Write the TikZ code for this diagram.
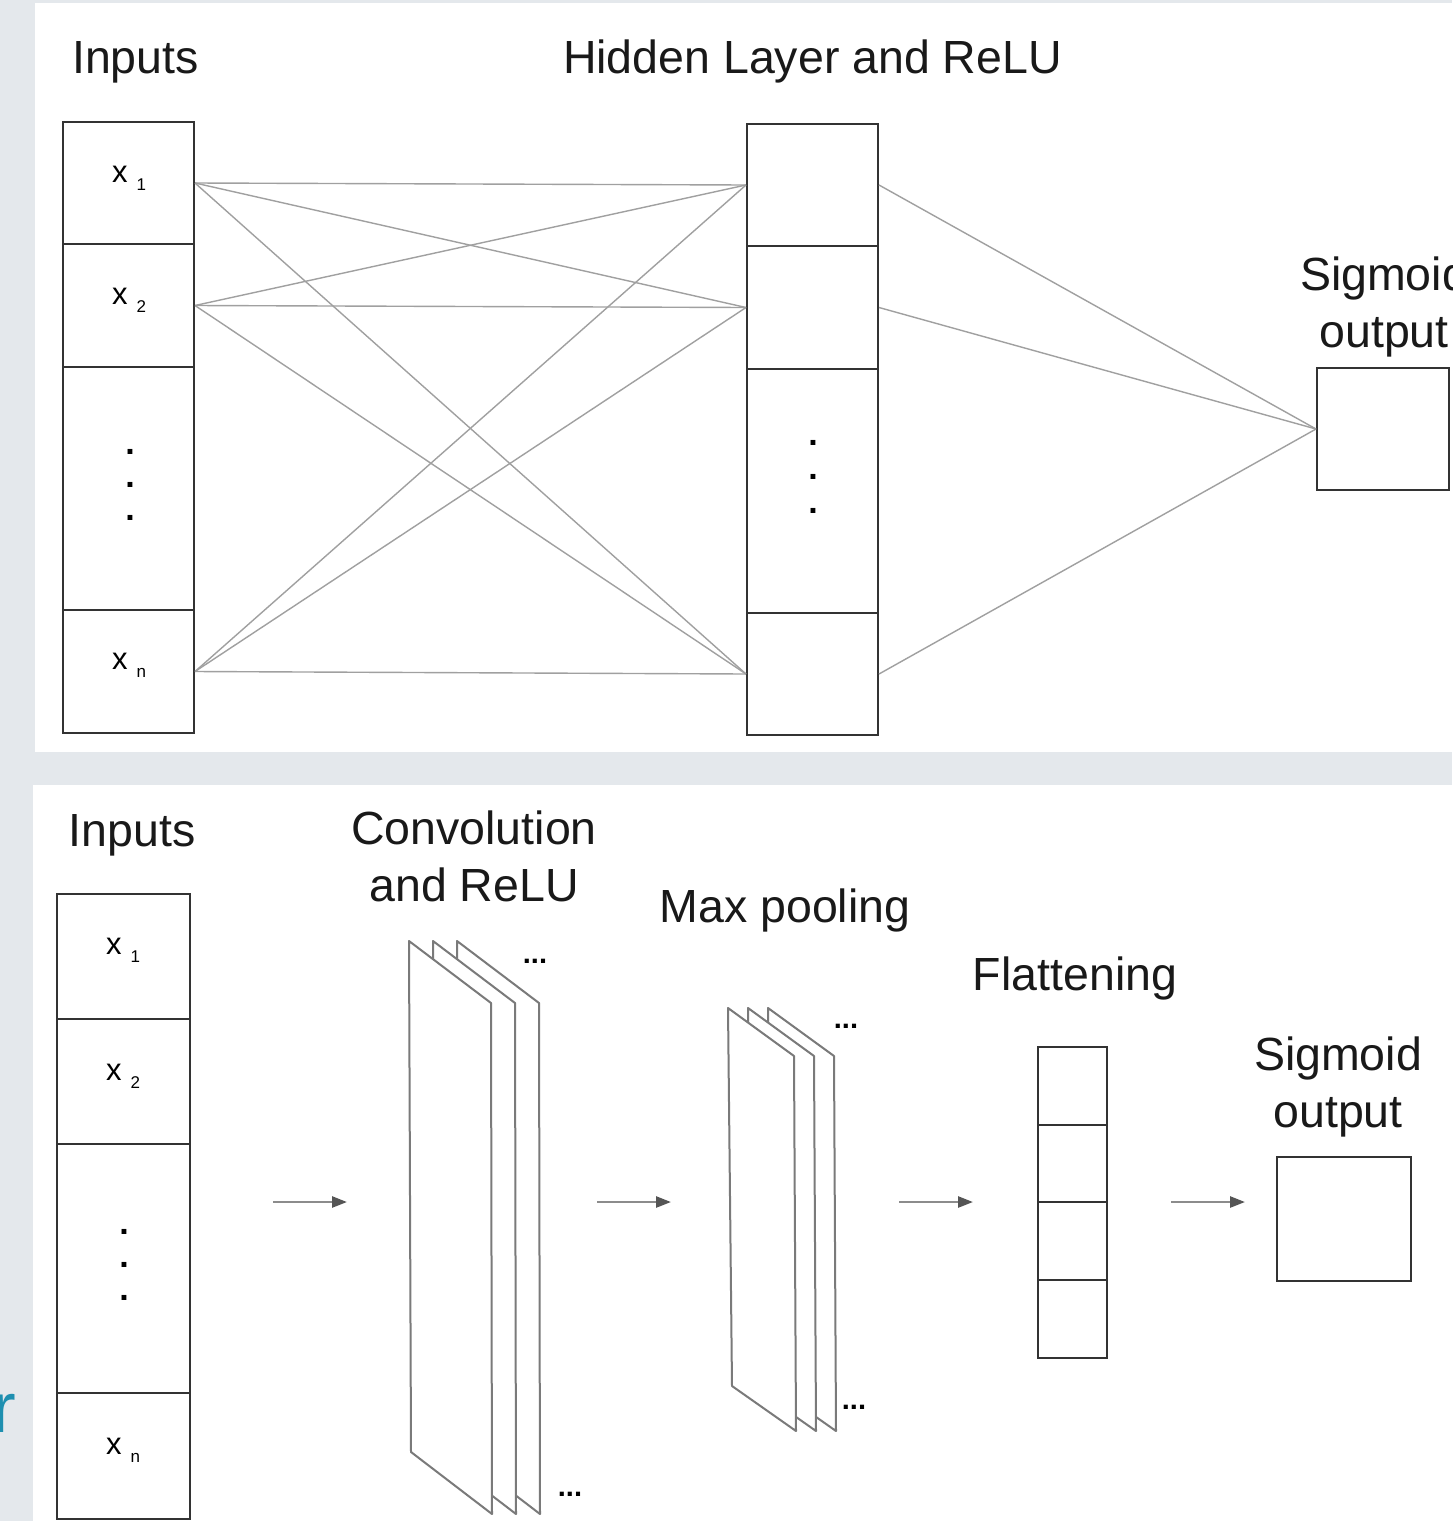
\documentclass[tikz,border=0pt]{standalone}
\usepackage{fontspec}
\setmainfont{Liberation Sans}
\usetikzlibrary{arrows.meta}
\definecolor{bgc}{HTML}{E4E8EC}
\definecolor{boxc}{HTML}{333333}
\definecolor{linec}{HTML}{A0A0A0}
\definecolor{planec}{HTML}{7A7A7A}
\definecolor{arrc}{HTML}{8C8C8C}
\definecolor{tipc}{HTML}{555555}
\definecolor{bluec}{HTML}{1E8FB0}
\tikzset{
  title/.style={font=\fontsize{46.5}{56}\selectfont, anchor=base, inner sep=0pt, text=black!90},
  cell/.style={draw=boxc, line width=2pt, fill=white, inner sep=0pt},
  xl/.style={font=\fontsize{31}{36}\selectfont, anchor=base west, inner sep=0pt},
  vdot/.style={font=\fontsize{34}{36}\selectfont\bfseries, inner sep=0pt},
  ell/.style={font=\fontsize{29}{32}\selectfont\bfseries, inner sep=0pt},
  conn/.style={draw=linec, line width=1.4pt},
  plane/.style={draw=planec, line width=2pt, fill=white, line join=round},
  flow/.style={draw=arrc, line width=2.5pt, -{Triangle[length=15pt,width=11pt,color=tipc]}},
}
\newcommand{\xlab}[1]{x\hspace{9pt}\raisebox{-8pt}{\fontsize{17}{20}\selectfont #1}}
\begin{document}
\begin{tikzpicture}[x=1pt,y=-1pt]
\useasboundingbox (0,0) rectangle (1452,1521);
\clip (0,0) rectangle (1452,1521);
% background and panels
\fill[bgc] (0,0) rectangle (1452,1521);
\fill[white] (35,3) rectangle (1452,752);
\fill[white] (33,785) rectangle (1452,1521);
\node[font=\fontsize{71}{80}\selectfont, text=bluec, anchor=base west, inner sep=0pt] (rfrag) at (-8,1432) {r};

% ================= TOP PANEL =================
\node[title] (tin) at (135.5,73) {Inputs};
\node[title] (thid) at (812.5,73) {Hidden Layer and ReLU};
\node[title] (tsig) at (1384,290) {Sigmoid};
\node[title] (tout) at (1384,347) {output};

% input column
\node[cell, minimum width=131pt, minimum height=122pt] (i1) at (128.5,183) {};
\node[cell, minimum width=131pt, minimum height=123pt] (i2) at (128.5,305.5) {};
\node[cell, minimum width=131pt, minimum height=243pt] (id) at (128.5,488.5) {};
\node[cell, minimum width=131pt, minimum height=123pt] (i3) at (128.5,671.5) {};
% hidden column
\node[cell, minimum width=131pt, minimum height=122pt] (h1) at (812.5,185) {};
\node[cell, minimum width=131pt, minimum height=123pt] (h2) at (812.5,307.5) {};
\node[cell, minimum width=131pt, minimum height=244pt] (hd) at (812.5,491) {};
\node[cell, minimum width=131pt, minimum height=122pt] (h3) at (812.5,674) {};
% output
\node[cell, minimum width=132pt, minimum height=122pt] (out) at (1383,429) {};

% connections
\foreach \a in {i1,i2,i3}
  \foreach \b in {h1,h2,h3}
    \draw[conn] (\a.east) -- (\b.west);
\foreach \a in {h1,h2,h3}
  \draw[conn] (\a.east) -- (out.west);

% labels
\node[xl] (lx1) at (112,182) {\xlab{1}};
\node[xl] (lx2) at (112,304) {\xlab{2}};
\node[xl] (lxn) at (112,669) {\xlab{n}};
\node[vdot] (d1) at (130,452) {.};
\node[vdot] (d2) at (130,485) {.};
\node[vdot] (d3) at (130,518) {.};
\node[vdot] (e1) at (813,443) {.};
\node[vdot] (e2) at (813,477) {.};
\node[vdot] (e3) at (813,511) {.};

% ================= BOTTOM PANEL =================
\node[title] (bin) at (132,846) {Inputs};
\node[title] (bconv1) at (474,844) {Convolution};
\node[title] (bconv2) at (474,901) {and ReLU};
\node[title] (bmax) at (785,922) {Max pooling};
\node[title] (bflat) at (1075,990) {Flattening};
\node[title] (bsig) at (1338,1070) {Sigmoid};
\node[title] (bout) at (1338,1127) {output};

% input column
\node[cell, minimum width=133pt, minimum height=125pt] (b1) at (123.5,956.5) {};
\node[cell, minimum width=133pt, minimum height=125pt] (b2) at (123.5,1081.5) {};
\node[cell, minimum width=133pt, minimum height=249pt] (bd) at (123.5,1268.5) {};
\node[cell, minimum width=133pt, minimum height=126pt] (b3) at (123.5,1456) {};
\node[xl] (bx1) at (106,954) {\xlab{1}};
\node[xl] (bx2) at (106,1080) {\xlab{2}};
\node[xl] (bxn) at (106,1454) {\xlab{n}};
\node[vdot] (f1d) at (124,1232) {.};
\node[vdot] (f2d) at (124,1265) {.};
\node[vdot] (f3d) at (124,1298) {.};

% convolution planes (back to front)
\foreach \o in {48,24,0}
  \draw[plane] (409+\o,941) -- (491+\o,1003) -- (492+\o,1514) -- (411+\o,1452) -- cycle;
\node[ell] (cdots1) at (535,961) {...};
\node[ell] (cdots2) at (570,1494) {...};

% max pooling planes
\foreach \o in {40,20,0}
  \draw[plane] (728+\o,1008) -- (794+\o,1056) -- (796+\o,1431) -- (732+\o,1386) -- cycle;
\node[ell] (mdots1) at (846,1026) {...};
\node[ell] (mdots2) at (854,1407) {...};

% flattening column
\node[cell, minimum width=69pt, minimum height=78pt] (fl1) at (1072.5,1086) {};
\node[cell, minimum width=69pt, minimum height=77pt] (fl2) at (1072.5,1163.5) {};
\node[cell, minimum width=69pt, minimum height=78pt] (fl3) at (1072.5,1241) {};
\node[cell, minimum width=69pt, minimum height=78pt] (fl4) at (1072.5,1319) {};

% sigmoid output
\node[cell, minimum width=134pt, minimum height=124pt] (bso) at (1344,1219) {};

% arrows
\coordinate (a1s) at (273,1202); \coordinate (a1e) at (347,1202);
\coordinate (a2s) at (597,1202); \coordinate (a2e) at (671,1202);
\coordinate (a3s) at (899,1202); \coordinate (a3e) at (973,1202);
\coordinate (a4s) at (1171,1202); \coordinate (a4e) at (1245,1202);
\draw[flow] (a1s) -- (a1e);
\draw[flow] (a2s) -- (a2e);
\draw[flow] (a3s) -- (a3e);
\draw[flow] (a4s) -- (a4e);
\end{tikzpicture}
\end{document}
